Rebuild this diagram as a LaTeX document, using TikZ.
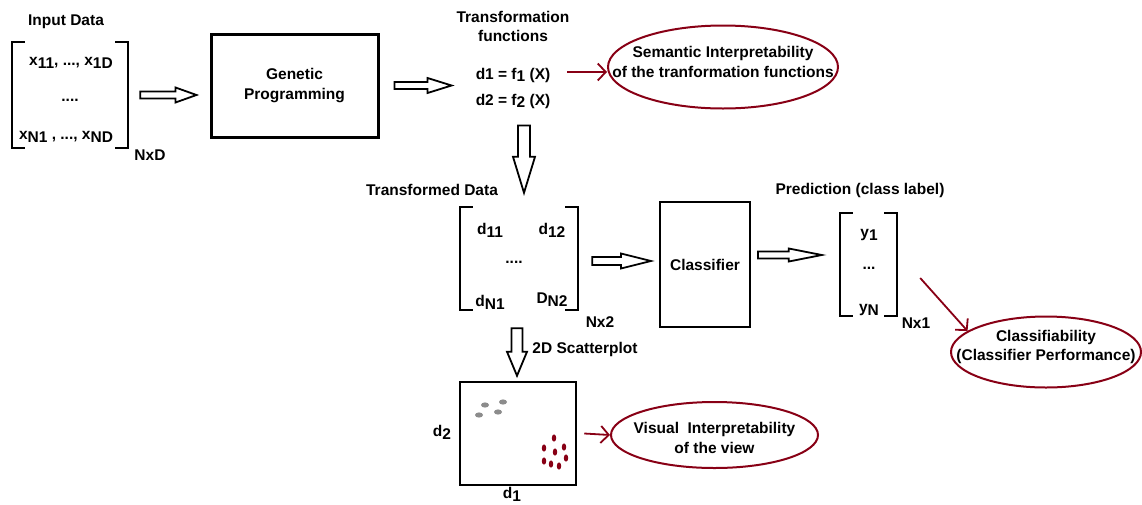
\documentclass[tikz,border=0pt]{standalone}
\usepackage{fontspec}
\setmainfont{Liberation Sans}
\usetikzlibrary{shapes.geometric,arrows.meta,positioning,calc}
\definecolor{maroon}{RGB}{136,0,21}
\definecolor{dotgray}{RGB}{140,140,140}
\newcommand{\sbs}[1]{\raisebox{-0.35ex}{#1}}
\newcommand{\brackets}[1]{%
  \draw[brk] ([xshift=13pt]#1.north west) -- (#1.north west) -- (#1.south west) -- ([xshift=13pt]#1.south west);
  \draw[brk] ([xshift=-13pt]#1.north east) -- (#1.north east) -- (#1.south east) -- ([xshift=-13pt]#1.south east);}

\begin{document}
\begin{tikzpicture}[
    x=1pt, y=-1pt,
    lbl/.style={font=\bfseries\fontsize{15.5}{19.5}\selectfont, inner sep=0pt, align=center},
    matbox/.style={rectangle, inner sep=0pt},
    brk/.style={line width=2pt, line join=miter},
    procbox/.style={rectangle, draw, inner sep=0pt, align=center, font=\bfseries\fontsize{15.5}{19.5}\selectfont},
    oval/.style={ellipse, draw=maroon, line width=2pt, inner sep=0pt},
    fatarrow/.style={draw, line width=1.8pt, line join=miter, fill=white},
    redarrow/.style={draw=maroon, line width=1.8pt, -{Straight Barb[length=8pt,width=17pt]}},
    hollow right/.style n args={3}{to path={let \p1=(\tikztostart), \p2=(\tikztotarget) in
      (\x1,\y1+#1) -- (\x2-#3,\y1+#1) -- (\x2-#3,\y1+#2) -- (\x2,\y1) -- (\x2-#3,\y1-#2) -- (\x2-#3,\y1-#1) -- (\x1,\y1-#1) -- cycle}},
    hollow down/.style n args={3}{to path={let \p1=(\tikztostart), \p2=(\tikztotarget) in
      (\x1-#1,\y1) -- (\x1-#1,\y2+#3) -- (\x1-#2,\y2+#3) -- (\x1,\y2) -- (\x1+#2,\y2+#3) -- (\x1+#1,\y2+#3) -- (\x1+#1,\y1) -- cycle}}
]
\useasboundingbox (0,0) rectangle (1142,504);

% input data
\node[matbox, minimum width=116pt, minimum height=106pt] (inmat) at (70,95) {};
\brackets{inmat}
\node[lbl, above=13pt of inmat, xshift=-4pt] (inlbl) {Input Data};
\node[lbl] (x1) at (71,63) {x\sbs{11}, ..., x\sbs{1D}};
\node[lbl] (xd) at (70,100) {....};
\node[lbl] (xn) at (66,137) {x\sbs{N1} , ..., x\sbs{ND}};
\node[lbl] (nxd) at (150,155) {NxD};

% genetic programming
\node[procbox, line width=3pt, minimum width=167pt, minimum height=103pt] (gp) at (294.5,85.5) {Genetic\\Programming};

% transformation functions
\node[lbl] (tflbl) at (513,26.5) {Transformation\\functions};
\node[lbl] (tfn) at (513,88) {d1 = f\sbs{1} (X)\\[6.5pt]d2 = f\sbs{2} (X)};
\node[oval, minimum width=230pt, minimum height=83pt] (sem) at (723,67) {};
\node[lbl] (semtxt) at ([yshift=5pt]sem.center) {Semantic Interpretability\\of the tranformation functions};

% transformed data
\node[matbox, minimum width=118pt, minimum height=103pt] (tmat) at (519,258.5) {};
\brackets{tmat}
\node[lbl] (tdlbl) at (432,190) {Transformed Data};
\node[lbl] (d11) at (490,230) {d\sbs{11}};
\node[lbl] (d12) at (552,230) {d\sbs{12}};
\node[lbl] (dd) at (514,262) {....};
\node[lbl] (dn1) at (490,302) {d\sbs{N1}};
\node[lbl] (dn2) at (552,300) {D\sbs{N2}};
\node[lbl] (nx2) at (600,322) {Nx2};

% classifier
\node[procbox, line width=2pt, minimum width=90pt, minimum height=125pt] (clf) at (705,264.5) {Classifier};

% prediction
\node[matbox, minimum width=57pt, minimum height=103pt] (pmat) at (868.5,264.5) {};
\brackets{pmat}
\node[lbl] (prlbl) at (860,190) {Prediction (class label)};
\node[lbl] (y1) at (869,235) {y\sbs{1}};
\node[lbl] (yd) at (869,268) {...};
\node[lbl] (yn) at (869,310) {y\sbs{N}};
\node[lbl] (nx1) at (916,323) {Nx1};
\node[oval, minimum width=190pt, minimum height=71pt] (cls) at (1046,352) {};
\node[lbl] (clstxt) at ([yshift=5pt]cls.center) {Classifiability\\(Classifier Performance)};

% scatterplot
\node[rectangle, draw, line width=2.5pt, minimum width=116pt, minimum height=103pt] (sp) at (518,433.5) {};
\node[lbl] (sclbl) at (585,349) {2D Scatterplot};
\node[lbl] (dy) at (442,432) {d\sbs{2}};
\node[lbl] (dx) at (512,494) {d\sbs{1}};
\foreach \px/\py in {485/405, 503/402, 479/415, 498/412}
  \fill[dotgray] (\px,\py) ellipse (4 and 2.6);
\foreach \px/\py in {554/438, 544/448, 564/447, 555/452, 566/458, 544/461, 551/464, 559/466}
  \fill[maroon] (\px,\py) ellipse (2.2 and 3.6);
\node[oval, minimum width=207pt, minimum height=66pt] (vis) at (714.5,435) {};
\node[lbl] (vistxt) at ([yshift=-3pt]vis.center) {Visual\ \ Interpretability\\of the view};

% hollow arrows
\draw[fatarrow] ([xshift=12pt]inmat.east) to[hollow right={3.5pt}{7.5pt}{21pt}] ([xshift=-13pt]gp.west);
\draw[fatarrow] ([xshift=15pt]gp.east) to[hollow right={3.5pt}{7.5pt}{24pt}] ([xshift=-24pt]tfn.west);
\draw[fatarrow] ([xshift=11pt,yshift=-17pt]tfn.south) to[hollow down={6pt}{11pt}{36pt}] ([yshift=14pt]tmat.north);
\draw[fatarrow] ([xshift=14pt,yshift=-2.5pt]tmat.east) to[hollow right={4pt}{7.5pt}{30pt}] ([xshift=-8pt]clf.west);
\draw[fatarrow] ([xshift=7pt,yshift=9.5pt]clf.east) to[hollow right={3.5pt}{6.5pt}{33pt}] ([xshift=-18pt]pmat.west);
\draw[fatarrow] ([xshift=-2pt,yshift=-18pt]tmat.south) to[hollow down={5.5pt}{10pt}{24pt}] ([yshift=5pt]sp.north);

% interpretability links
\draw[redarrow] ([xshift=17pt,yshift=16pt]tfn.east) -- ([yshift=-5pt]sem.west);
\draw[redarrow] ([xshift=23pt,yshift=-13.5pt]pmat.east) -- (cls.165);
\draw[redarrow] ([xshift=7pt]sp.east) -- (vis.west);
\end{tikzpicture}
\end{document}
